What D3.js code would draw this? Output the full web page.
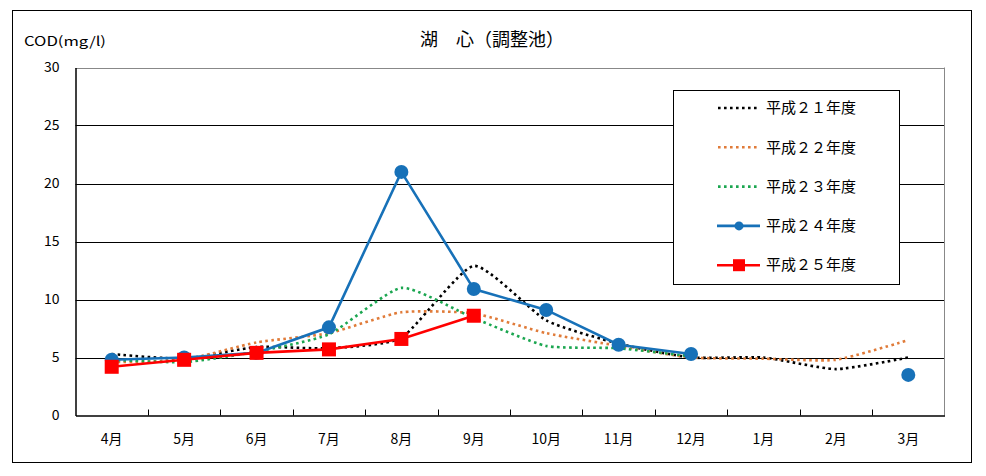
<!DOCTYPE html>
<html><head><meta charset="utf-8">
<script src="https://cdn.jsdelivr.net/npm/d3@7"></script>
<style>body{margin:0;background:#fff;}svg{display:block;}</style>
</head><body>
<svg id="c" width="986" height="476"></svg>
<script>
const months = ["4月","5月","6月","7月","8月","9月","10月","11月","12月","1月","2月","3月"];
const yTicks = [0,5,10,15,20,25,30];
const seriesNames = ["平成２１年度","平成２２年度","平成２３年度","平成２４年度","平成２５年度"];
const h21 = [5.3,4.9,5.9,5.8,6.7,12.9,8.2,6.2,5.0,5.0,4.0,5.0];
const h22 = [4.6,4.8,6.3,7.1,8.9,8.8,7.1,6.0,5.0,4.9,4.8,6.5];
const h23 = [4.8,4.6,5.5,7.0,11.0,8.4,6.0,5.8,5.1,null,null,null];
const h24 = [4.8,5.0,5.4,7.6,21.0,10.9,9.1,6.1,5.3,null,null,3.5];
const h25 = [4.2,4.8,5.4,5.7,6.6,8.6,null,null,null,null,null,null];
const colors = ["#000000","#E07B39","#1BA650","#1771B8","#FF0000"];

const svg = d3.select("#c");
const font = "'Noto Sans CJK JP','Noto Sans',sans-serif";

// outer frame
svg.append("rect").attr("x",12.5).attr("y",10.5).attr("width",959).attr("height",452)
  .attr("fill","none").attr("stroke","#000").attr("stroke-width",1);

const L=75.5, R=944.5, T=67.5, B=415.5;
const x = d3.scaleBand().domain(months).range([L,R]);
const y = d3.scaleLinear().domain([0,30]).range([B,T]);

// gridlines
svg.append("g").selectAll("line").data(yTicks.filter(d=>d>0)).join("line")
  .attr("x1",L).attr("x2",R).attr("y1",d=>Math.round(y(d))+0.5).attr("y2",d=>Math.round(y(d))+0.5)
  .attr("stroke",d=>d===30?"#888":"#000").attr("stroke-width",1);
// right border
svg.append("line").attr("x1",R).attr("x2",R).attr("y1",T).attr("y2",B).attr("stroke","#888");

// y axis
const yAxis = d3.axisLeft(y).tickValues(yTicks).tickSize(0).tickPadding(16);
const gy = svg.append("g").attr("transform",`translate(${L},0)`).call(yAxis);
gy.select(".domain").attr("stroke","#000").attr("stroke-width",1.5);
gy.selectAll("text").attr("font-family",font).attr("font-size",14).attr("fill","#000");

// x axis
const xAxis = d3.axisBottom(x).tickSize(0).tickPadding(19);
const gx = svg.append("g").attr("transform",`translate(0,${B})`).call(xAxis);
gx.select(".domain").attr("stroke","#000").attr("stroke-width",1.5);
gx.selectAll("text").attr("font-family",font).attr("font-size",14).attr("fill","#000");
// inner ticks at band boundaries
const bounds = months.slice(1).map(m=>x(m));
svg.append("g").selectAll("line").data(bounds).join("line")
  .attr("x1",d=>Math.round(d)+0.5).attr("x2",d=>Math.round(d)+0.5).attr("y1",B).attr("y2",B-6)
  .attr("stroke","#000");

// title & axis label
svg.append("text").attr("x",492).attr("y",46).attr("text-anchor","middle")
  .attr("font-family",font).attr("font-size",18).text("湖　心（調整池）");
svg.append("text").attr("x",24).attr("y",46).attr("font-family",font).attr("font-size",13)
  .attr("textLength",82).attr("lengthAdjust","spacingAndGlyphs").text("COD(mg/l)");

const cx = m => x(m)+x.bandwidth()/2;
const pts = arr => arr.map((v,i)=>({m:months[i],v}));

// dotted smooth lines
[h21,h22,h23].forEach((arr,k)=>{
  const line = d3.line().defined(d=>d.v!=null).x(d=>cx(d.m)).y(d=>y(d.v)).curve(d3.curveCardinal.tension(0.45));
  svg.append("path").datum(pts(arr)).attr("d",line).attr("fill","none")
    .attr("stroke",colors[k]).attr("stroke-width",2.6).attr("stroke-dasharray","2.6,3.4");
});
// solid lines
const sline = d3.line().defined(d=>d.v!=null).x(d=>cx(d.m)).y(d=>y(d.v));
svg.append("path").datum(pts(h24)).attr("d",sline).attr("fill","none").attr("stroke",colors[3]).attr("stroke-width",2.6);
svg.append("g").selectAll("circle").data(pts(h24).filter(d=>d.v!=null)).join("circle")
  .attr("cx",d=>cx(d.m)).attr("cy",d=>y(d.v)).attr("r",7).attr("fill",colors[3]);
svg.append("path").datum(pts(h25)).attr("d",sline).attr("fill","none").attr("stroke",colors[4]).attr("stroke-width",2.6);
svg.append("g").selectAll("rect").data(pts(h25).filter(d=>d.v!=null)).join("rect")
  .attr("x",d=>cx(d.m)-7).attr("y",d=>y(d.v)-7).attr("width",14).attr("height",14).attr("fill",colors[4]);

// legend
const lg = svg.append("g");
lg.append("rect").attr("x",673.5).attr("y",90.5).attr("width",226).attr("height",194)
  .attr("fill","#fff").attr("stroke","#000");
seriesNames.forEach((nm,i)=>{
  const yy = 108 + i*39.3;
  const g = lg.append("g");
  if(i<3){
    g.append("line").attr("x1",718).attr("x2",758).attr("y1",yy).attr("y2",yy)
      .attr("stroke",colors[i]).attr("stroke-width",2.6).attr("stroke-dasharray","2.6,3.4");
  } else {
    g.append("line").attr("x1",717).attr("x2",760).attr("y1",yy).attr("y2",yy)
      .attr("stroke",colors[i]).attr("stroke-width",2.6);
    if(i===3) g.append("circle").attr("cx",739).attr("cy",yy).attr("r",4.5).attr("fill",colors[i]);
    else g.append("rect").attr("x",733).attr("y",yy-6).attr("width",12).attr("height",12).attr("fill",colors[i]);
  }
  g.append("text").attr("x",766).attr("y",yy).attr("dy","0.35em")
    .attr("font-family",font).attr("font-size",15).text(nm);
});
</script>
</body></html>
